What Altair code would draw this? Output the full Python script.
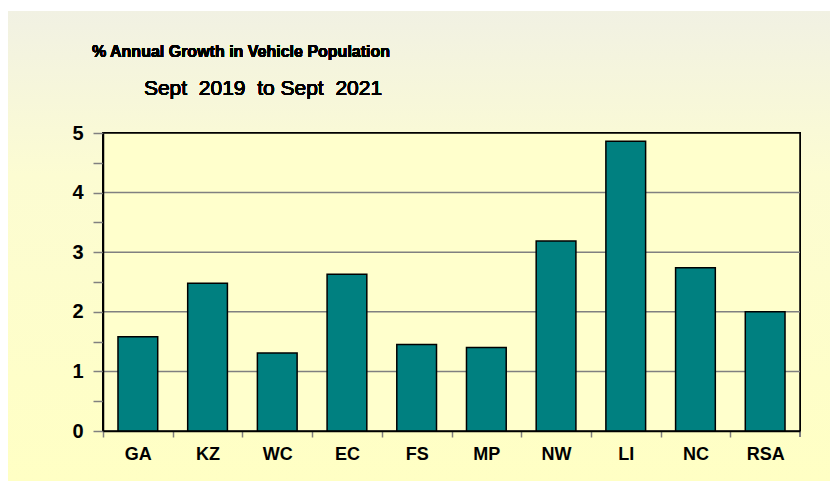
import altair as alt
import pandas as pd

regions = ["GA", "KZ", "WC", "EC", "FS", "MP", "NW", "LI", "NC", "RSA"]
growth = [1.58, 2.48, 1.31, 2.63, 1.45, 1.40, 3.19, 4.86, 2.74, 2.00]
grid_values = [1, 2, 3, 4]
y_ticks = [0, 0.5, 1, 1.5, 2, 2.5, 3, 3.5, 4, 4.5, 5]
title_text = "% Annual Growth in Vehicle Population"
subtitle_text = "Sept\u00a0 2019\u00a0 to Sept\u00a0 2021"

W, H = 697, 298
PL, PT, PR, PB = 95, 125, 30, 50

df = pd.DataFrame({"region": regions, "growth": growth})
gdf = pd.DataFrame({"v": grid_values})

FONT = "Liberation Sans, Arial"

y_axis = alt.Axis(title=None, values=y_ticks,
                  labelExpr="datum.value % 1 == 0 ? format(datum.value, 'd') : ''",
                  labelFont=FONT, labelFontSize=20, labelFontWeight="bold",
                  labelColor="black", labelPadding=10,
                  tickColor="#808080", tickSize=10, tickWidth=1.5,
                  domainColor="black", domainWidth=1.5, grid=False, zindex=1)
y_scale = alt.Scale(domain=[0, 5], nice=False)

bg = alt.Chart(df).mark_rect(
    fill=alt.LinearGradient(
        gradient="linear", x1=0, x2=0, y1=0, y2=1,
        stops=[alt.GradientStop(color="#F1F1E3", offset=0),
               alt.GradientStop(color="#FCFCD2", offset=0.35),
               alt.GradientStop(color="#FFFFC4", offset=1)]),
    stroke=None,
).encode(x=alt.value(-PL), x2=alt.value(W + PR), y=alt.value(-PT + 3), y2=alt.value(H + PB))

plotbg = alt.Chart(df).mark_rect(fill="#FFFFCC", stroke="black", strokeWidth=1.5).encode(
    x=alt.value(0), x2=alt.value(W), y=alt.value(0), y2=alt.value(H))

grid = alt.Chart(gdf).mark_rule(color="#808080", strokeWidth=1.5).encode(
    y=alt.Y("v:Q", scale=y_scale, axis=y_axis))

bars = alt.Chart(df).mark_bar(color="#008080", stroke="black", strokeWidth=1.5).encode(
    x=alt.X("region:N", sort=regions,
            scale=alt.Scale(paddingInner=0.43, paddingOuter=0.215),
            axis=alt.Axis(title=None, labelAngle=0, labelFont=FONT, labelFontSize=18,
                          labelFontWeight="bold", labelColor="black", labelPadding=8,
                          tickOffset=-W / 20, labelOffset=W / 20,
                          tickColor="#808080", tickSize=6, tickWidth=1.5,
                          domainColor="black", domainWidth=1.5, zindex=1)),
    y=alt.Y("growth:Q", scale=y_scale, axis=y_axis),
)

endtick = alt.Chart(df).mark_rule(color="#808080", strokeWidth=1.5).encode(
    x=alt.value(W), y=alt.value(H), y2=alt.value(H + 6))

title = alt.Chart(df).mark_text(
    text=title_text, font=FONT, fontSize=16, fontWeight="bold", color="black",
    align="center", baseline="alphabetic").encode(x=alt.value(138), y=alt.value(-76))

subtitle = alt.Chart(df).mark_text(
    text=subtitle_text, font=FONT, fontSize=21, color="black",
    align="center", baseline="alphabetic").encode(x=alt.value(160), y=alt.value(-38))

chart = alt.layer(bg, plotbg, grid, bars, endtick, title, subtitle).properties(
    width=W, height=H,
    autosize=alt.AutoSizeParams(type="none"),
    padding={"left": PL, "top": PT, "right": PR, "bottom": PB},
    background="white",
).configure_view(stroke=None)

chart.save("out.html", embed_options={"renderer": "svg", "actions": False})
